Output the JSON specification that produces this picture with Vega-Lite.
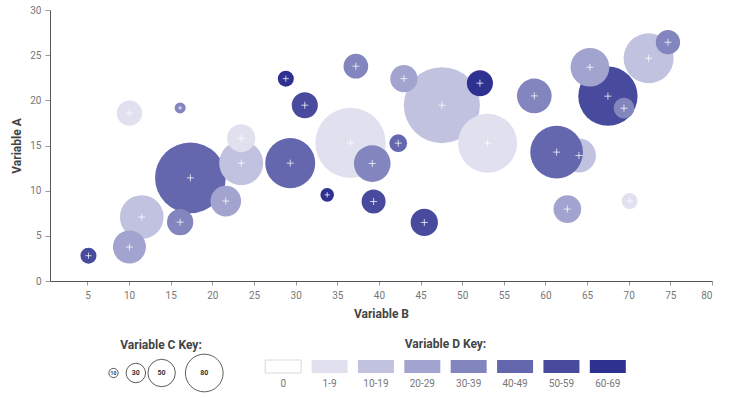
{
  "$schema": "https://vega.github.io/schema/vega-lite/v6.json",
  "background": "white",
  "padding": {"left": 10, "top": 5, "right": 5, "bottom": 5},
  "config": {
    "view": {"stroke": null},
    "font": "Roboto, sans-serif",
    "title": {"font": "Roboto, sans-serif"},
    "axis": {"labelFont": "Roboto", "titleFont": "Roboto"}
  },
  "datasets": {
    "bubbles": [
      {"B": 5.12, "A": 2.80, "C": 4.0, "D": "50-59"},
      {"B": 17.36, "A": 11.42, "C": 78.1, "D": "40-49"},
      {"B": 11.52, "A": 7.08, "C": 29.8, "D": "10-19"},
      {"B": 10.04, "A": 3.76, "C": 17.0, "D": "20-29"},
      {"B": 16.13, "A": 6.52, "C": 10.8, "D": "30-39"},
      {"B": 21.61, "A": 8.85, "C": 14.7, "D": "20-29"},
      {"B": 10.04, "A": 18.58, "C": 10.0, "D": "1-9"},
      {"B": 16.13, "A": 19.16, "C": 1.9, "D": "30-39"},
      {"B": 23.46, "A": 13.05, "C": 30.3, "D": "10-19"},
      {"B": 23.46, "A": 15.81, "C": 12.3, "D": "1-9"},
      {"B": 28.82, "A": 22.40, "C": 4.0, "D": "60-69"},
      {"B": 31.10, "A": 19.46, "C": 10.6, "D": "50-59"},
      {"B": 37.23, "A": 23.78, "C": 9.5, "D": "30-39"},
      {"B": 36.59, "A": 15.29, "C": 77.2, "D": "1-9"},
      {"B": 29.35, "A": 13.05, "C": 39.1, "D": "40-49"},
      {"B": 39.20, "A": 13.00, "C": 21.0, "D": "30-39"},
      {"B": 42.32, "A": 15.26, "C": 4.9, "D": "40-49"},
      {"B": 33.79, "A": 9.54, "C": 2.9, "D": "60-69"},
      {"B": 39.36, "A": 8.80, "C": 9.0, "D": "50-59"},
      {"B": 45.45, "A": 6.48, "C": 11.6, "D": "50-59"},
      {"B": 47.56, "A": 19.46, "C": 90.3, "D": "10-19"},
      {"B": 43.00, "A": 22.40, "C": 11.6, "D": "20-29"},
      {"B": 52.13, "A": 21.90, "C": 10.6, "D": "60-69"},
      {"B": 53.05, "A": 15.26, "C": 54.4, "D": "1-9"},
      {"B": 58.66, "A": 20.49, "C": 18.8, "D": "30-39"},
      {"B": 64.02, "A": 13.89, "C": 18.1, "D": "10-19"},
      {"B": 61.34, "A": 14.27, "C": 43.4, "D": "40-49"},
      {"B": 62.63, "A": 7.96, "C": 12.0, "D": "20-29"},
      {"B": 70.11, "A": 8.85, "C": 4.0, "D": "1-9"},
      {"B": 67.50, "A": 20.46, "C": 54.9, "D": "50-59"},
      {"B": 65.34, "A": 23.66, "C": 23.4, "D": "20-29"},
      {"B": 69.43, "A": 19.13, "C": 6.7, "D": "30-39"},
      {"B": 72.39, "A": 24.66, "C": 39.1, "D": "10-19"},
      {"B": 74.71, "A": 26.43, "C": 9.2, "D": "30-39"}
    ],
    "ckey": [{"C": 10}, {"C": 30}, {"C": 50}, {"C": 80}],
    "dkey": [{"D": "0"}, {"D": "1-9"}, {"D": "10-19"}, {"D": "20-29"}, {"D": "30-39"}, {"D": "40-49"}, {"D": "50-59"}, {"D": "60-69"}]
  },
  "spacing": 18,
  "resolve": {"scale": {"size": "independent"}},
  "vconcat": [
    {
      "width": 662,
      "height": 271,
      "data": {"name": "bubbles"},
      "resolve": {"scale": {"size": "independent"}},
      "layer": [
        {
          "mark": {"type": "point", "shape": "circle", "filled": true, "opacity": 1, "strokeWidth": 0},
          "encoding": {
            "x": {
              "field": "B", "type": "quantitative",
              "scale": {"domain": [0.5, 80], "nice": false, "zero": false},
              "axis": {
                "values": [5, 10, 15, 20, 25, 30, 35, 40, 45, 50, 55, 60, 65, 70, 75, 80],
                "grid": false, "domainColor": "#555555", "domainWidth": 1,
                "tickColor": "#999999", "tickSize": 4, "labelColor": "#777777",
                "labelFontSize": 10, "labelPadding": 5,
                "title": "Variable B", "titleFontSize": 12, "titleFontWeight": "bold",
                "titleColor": "#444444", "titlePadding": 8
              }
            },
            "y": {
              "field": "A", "type": "quantitative",
              "scale": {"domain": [0, 30], "nice": false},
              "axis": {
                "values": [0, 5, 10, 15, 20, 25, 30],
                "grid": false, "domainColor": "#555555", "domainWidth": 1,
                "tickColor": "#999999", "tickSize": 5, "labelColor": "#777777",
                "labelFontSize": 10, "labelPadding": 4,
                "title": "Variable A", "titleFontSize": 12, "titleFontWeight": "bold",
                "titleColor": "#444444", "titlePadding": 6
              }
            },
            "size": {"field": "C", "type": "quantitative", "scale": {"domain": [0, 100], "range": [0, 6400]}, "legend": null},
            "color": {
              "field": "D", "type": "nominal",
              "scale": {
                "domain": ["0", "1-9", "10-19", "20-29", "30-39", "40-49", "50-59", "60-69"],
                "range": ["#ffffff", "#e0e0ef", "#c1c2e0", "#a2a4cf", "#8385be", "#6467ae", "#484b9d", "#2e3190"]
              },
              "legend": null
            }
          }
        },
        {
          "mark": {"type": "point", "shape": "M-1,0L1,0M0,-1L0,1", "filled": false, "stroke": "#ffffff", "strokeWidth": 1, "strokeOpacity": 0.75, "opacity": 1},
          "encoding": {
            "x": {"field": "B", "type": "quantitative"},
            "y": {"field": "A", "type": "quantitative"},
            "size": {"field": "C", "type": "quantitative", "scale": {"type": "linear", "domain": [2, 5], "range": [16, 49], "clamp": true, "zero": false}, "legend": null}
          }
        }
      ]
    },
    {
      "spacing": 30,
      "hconcat": [
        {
          "width": 180,
          "height": 26,
          "title": {"text": "Variable C Key:", "fontSize": 12, "fontWeight": "bold", "color": "#444444", "dx": 21, "offset": 1},
          "data": {"name": "ckey"},
          "layer": [
            {
              "mark": {"type": "point", "shape": "circle", "filled": false, "stroke": "#333333", "fill": null, "strokeWidth": 0.8, "opacity": 1},
              "encoding": {
                "x": {"field": "C", "type": "quantitative", "scale": {"type": "pow", "exponent": 1.2, "domain": [-49.3, 97.0], "nice": false, "zero": false}, "axis": null},
                "size": {"field": "C", "type": "quantitative", "scale": {"type": "pow", "exponent": 1.35, "domain": [0, 80], "range": [0, 1421]}, "legend": null}
              }
            },
            {
              "mark": {"type": "text", "fontWeight": "bold", "fill": "#333333", "stroke": null},
              "encoding": {
                "x": {"field": "C", "type": "quantitative"},
                "text": {"field": "C", "type": "quantitative"},
                "size": {"condition": {"test": "datum.C === 10", "value": 5}, "value": 7}
              }
            }
          ]
        },
        {
          "width": 371,
          "height": 13,
          "title": {"text": "Variable D Key:", "fontSize": 12, "fontWeight": "bold", "color": "#444444", "offset": 9},
          "data": {"name": "dkey"},
          "mark": {"type": "rect"},
          "encoding": {
            "x": {
              "field": "D", "type": "nominal", "sort": null,
              "scale": {"paddingInner": 0.224, "paddingOuter": 0.112},
              "axis": {"title": null, "domain": false, "ticks": false, "labelAngle": 0, "labelColor": "#777777", "labelFontSize": 10, "labelPadding": 5, "labelFont": "Roboto"}
            },
            "color": {
              "field": "D", "type": "nominal",
              "scale": {
                "domain": ["0", "1-9", "10-19", "20-29", "30-39", "40-49", "50-59", "60-69"],
                "range": ["#ffffff", "#e0e0ef", "#c1c2e0", "#a2a4cf", "#8385be", "#6467ae", "#484b9d", "#2e3190"]
              },
              "legend": null
            },
            "stroke": {"condition": {"test": "datum.D === '0'", "value": "#d9d9d9"}, "value": "transparent"}
          }
        }
      ]
    }
  ]
}
